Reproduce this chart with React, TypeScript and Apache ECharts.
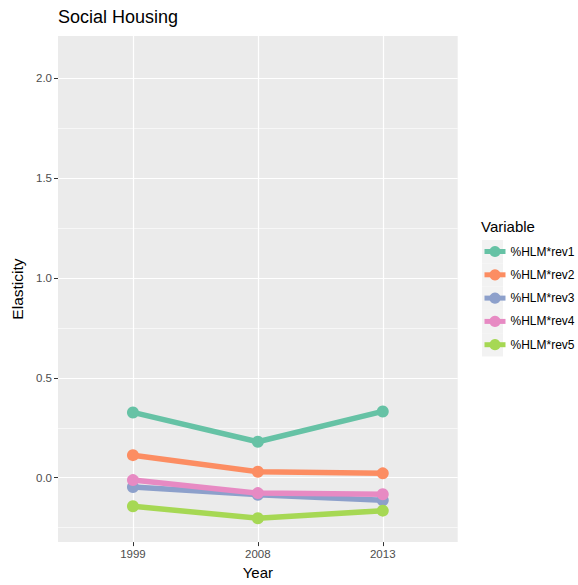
import React, { useEffect, useRef } from "react";
import * as echarts from "echarts";

const years = ["1999", "2008", "2013"];
const seriesNames = ["%HLM*rev1", "%HLM*rev2", "%HLM*rev3", "%HLM*rev4", "%HLM*rev5"];
const rev1 = [0.327, 0.18, 0.332];
const rev2 = [0.113, 0.03, 0.022];
const rev3 = [-0.047, -0.085, -0.113];
const rev4 = [-0.012, -0.077, -0.083];
const rev5 = [-0.143, -0.203, -0.165];
const seriesValues = [rev1, rev2, rev3, rev4, rev5];
const colors = ["#66C2A5", "#FC8D62", "#8DA0CB", "#E78AC3", "#A6D854"];
const yMajorTicks = [0, 0.5, 1, 1.5, 2];
const yMinorTicks = [-0.25, 0.25, 0.75, 1.25, 1.75];

const FONT = "Liberation Sans, Arial, Helvetica, sans-serif";

export default function App() {
  const ref = useRef<HTMLDivElement>(null);
  useEffect(() => {
    document.body.style.margin = "0";
    const chart = echarts.init(ref.current!, null, { renderer: "svg" });
    const keyX = 482;
    const keyTop = 240;
    const keyH = 23.3;
    const keyRects = seriesNames.map((_, i) => ({
      type: "rect",
      left: keyX,
      top: keyTop + i * keyH,
      shape: { width: 21, height: keyH },
      style: { fill: "#F2F2F2" },
      z: 0,
    }));
    chart.setOption({
      animation: false,
      backgroundColor: "#FFFFFF",
      textStyle: { fontFamily: FONT },
      title: {
        text: "Social Housing",
        left: 58,
        top: 8,
        padding: 0,
        textStyle: { fontSize: 18, fontWeight: "normal", color: "#000000", fontFamily: FONT },
      },
      grid: { left: 58, top: 36, right: 120.3, bottom: 41.7, show: true, backgroundColor: "#EBEBEB", borderWidth: 0 },
      xAxis: {
        type: "value",
        min: -0.6,
        max: 2.6,
        name: "Year",
        nameLocation: "middle",
        nameGap: 20,
        nameTextStyle: { fontSize: 15, color: "#000000", fontFamily: FONT },
        axisLine: { show: false, onZero: false },
        axisTick: { show: true, length: 4, customValues: [0, 1, 2], lineStyle: { color: "#333333", width: 1 } },
        axisLabel: {
          customValues: [0, 1, 2],
          formatter: (v: number) => years[Math.round(v)] ?? "",
          fontSize: 11.5,
          color: "#4D4D4D",
          margin: 6,
          fontFamily: FONT,
        },
        splitLine: { show: true, lineStyle: { color: "#FFFFFF", width: 1.2 } },
      },
      yAxis: [
        {
          type: "value",
          min: -0.3225,
          max: 2.2125,
          name: "Elasticity",
          nameLocation: "middle",
          nameRotate: 90,
          nameGap: 32,
          nameTextStyle: { fontSize: 15.5, color: "#000000", fontFamily: FONT },
          axisLine: { show: false, onZero: false },
          axisTick: { show: true, length: 4, customValues: yMajorTicks, lineStyle: { color: "#333333", width: 1 } },
          axisLabel: {
            customValues: yMajorTicks,
            formatter: (v: number) => v.toFixed(1),
            fontSize: 11.5,
            color: "#4D4D4D",
            margin: 6,
            fontFamily: FONT,
          },
          splitLine: { show: true, lineStyle: { color: "#FFFFFF", width: 1.2 } },
        },
        {
          type: "value",
          min: -0.3225,
          max: 2.2125,
          position: "left",
          axisLine: { show: false, onZero: false },
          axisTick: { show: false, customValues: yMinorTicks },
          axisLabel: { show: false, customValues: yMinorTicks },
          splitLine: { show: true, lineStyle: { color: "#FFFFFF", width: 0.6 } },
        },
      ],
      legend: {
        orient: "vertical",
        left: 482,
        top: 244.5,
        padding: 0,
        itemWidth: 21,
        itemHeight: 14,
        itemGap: 9.3,
        data: seriesNames,
        lineStyle: { width: 5 },
        textStyle: { fontSize: 12, color: "#000000", lineHeight: 14, fontFamily: FONT },
      },
      graphic: [
        {
          type: "text",
          left: 481,
          top: 219,
          style: { text: "Variable", fontSize: 15, fill: "#000000", fontFamily: FONT },
        },
        ...keyRects,
      ],
      series: seriesNames.map((name, i) => ({
        name,
        type: "line",
        yAxisIndex: 0,
        data: seriesValues[i].map((v, j) => [j, v]),
        symbol: "circle",
        symbolSize: 12,
        lineStyle: { width: 5.5, color: colors[i] },
        itemStyle: { color: colors[i] },
        color: colors[i],
        z: 2 + i,
      })),
    });
    return () => chart.dispose();
  }, []);
  return <div ref={ref} style={{ position: "fixed", left: 0, top: 0, width: 578, height: 585 }} />;
}
